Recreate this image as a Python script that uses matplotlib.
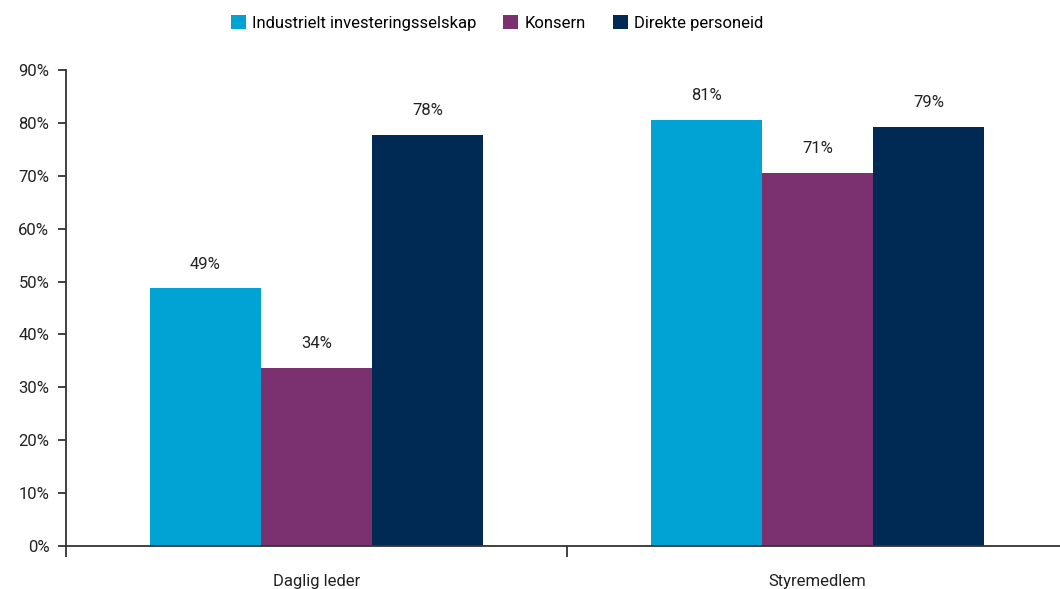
import numpy as np
import matplotlib
matplotlib.use("Agg")
import matplotlib.pyplot as plt

plt.rcParams['font.family'] = ['Roboto', 'DejaVu Sans']

categories = ["Daglig leder", "Styremedlem"]
series_names = ["Industrielt investeringsselskap", "Konsern", "Direkte personeid"]
industrielt = [48.7, 80.6]
konsern = [33.7, 70.6]
direkte = [77.8, 79.3]
yticks = [0, 10, 20, 30, 40, 50, 60, 70, 80, 90]

colors = ["#00a3d4", "#7b3170", "#002a54"]
axis_col = "#333333"
text_col = "#222222"

fig = plt.figure(figsize=(10.6, 5.89), dpi=100)
ax = fig.add_axes([0.0623, 0.073, 0.945, 0.808])

x = np.arange(len(categories))
width = 0.222
handles = []
for i, (vals, name) in enumerate(zip([industrielt, konsern, direkte], series_names)):
    bars = ax.bar(x + (i - 1) * width, vals, width, color=colors[i], label=name)
    handles.append(bars)
    for rect, v in zip(bars, vals):
        ax.annotate(f"{v:.0f}%", (rect.get_x() + rect.get_width() / 2, v),
                    xytext=(0, 12), textcoords="offset points",
                    ha="center", va="bottom", fontsize=12, color=text_col)

ax.set_xlim(-0.5, 1.5)
ax.set_ylim(0, 90)
ax.set_yticks(yticks)
ax.set_yticklabels([f"{t}%" for t in yticks])

# category labels on major ticks, group separators on minor ticks
ax.set_xticks(x)
ax.set_xticklabels(categories)
ax.set_xticks([-0.5, 0.5, 1.5], minor=True)
ax.tick_params(axis="x", which="major", length=0, pad=20, labelsize=12, labelcolor=text_col)
ax.tick_params(axis="x", which="minor", length=8, width=1.3, color=axis_col, direction="out")
ax.tick_params(axis="y", length=6, width=1.3, color=axis_col, labelsize=12, labelcolor=text_col, pad=6)

for side in ["top", "right"]:
    ax.spines[side].set_visible(False)
for side in ["left", "bottom"]:
    ax.spines[side].set_color(axis_col)
    ax.spines[side].set_linewidth(1.3)

fig.legend(handles=handles, labels=series_names, loc="upper center",
           bbox_to_anchor=(0.469, 1.0), ncol=3, frameon=False, fontsize=12,
           handlelength=0.9, handleheight=0.9, handletextpad=0.4, columnspacing=1.6)

fig.savefig("out.png", dpi=100)
